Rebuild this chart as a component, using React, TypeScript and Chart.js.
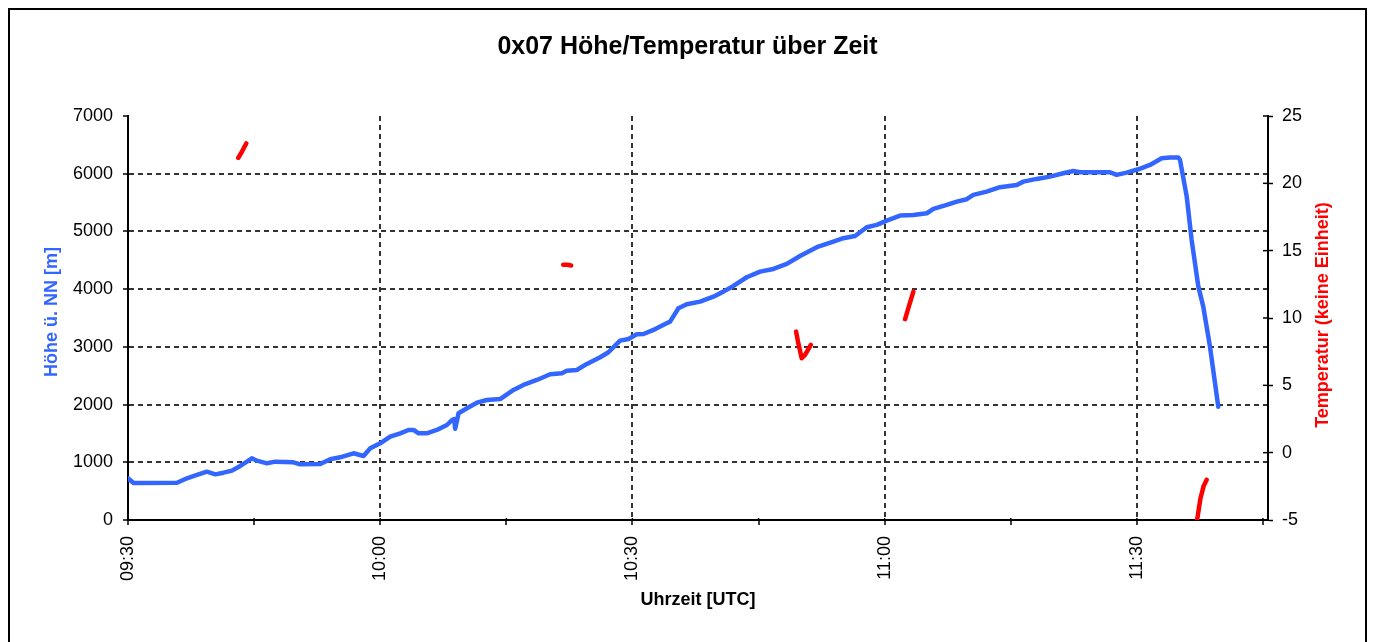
import React, { useEffect, useRef } from "react";
import { Chart, registerables } from "chart.js";

Chart.register(...registerables);

const CHART_TITLE = "0x07 Höhe/Temperatur über Zeit";
const X_TITLE = "Uhrzeit [UTC]";
const LEFT_TITLE = "Höhe ü. NN [m]";
const RIGHT_TITLE = "Temperatur (keine Einheit)";

const xMajorTicks = ["09:30", "10:00", "10:30", "11:00", "11:30"];
const xMinorTicks = ["09:45", "10:15", "10:45", "11:15", "11:45"];
const xRange = ["09:30:00", "11:45:36"];

const altTimes = [
  "09:30:00", "09:30:40", "09:35:50", "09:37:01", "09:38:12", "09:39:23", "09:40:23", "09:41:22", "09:42:22", "09:43:21",
  "09:44:09", "09:44:44", "09:45:20", "09:46:32", "09:47:31", "09:49:41", "09:50:29", "09:52:52", "09:54:03", "09:55:14",
  "09:56:50", "09:58:01", "09:58:49", "10:00:00", "10:01:11", "10:02:23", "10:03:22", "10:03:58", "10:04:34", "10:05:33",
  "10:06:44", "10:07:56", "10:08:32", "10:08:48", "10:08:55", "10:09:06", "10:09:19", "10:10:19", "10:11:30", "10:12:41",
  "10:14:16", "10:15:51", "10:17:02", "10:18:38", "10:20:13", "10:21:37", "10:22:12", "10:23:23", "10:24:35", "10:26:10",
  "10:27:09", "10:28:32", "10:29:32", "10:30:31", "10:31:19", "10:32:30", "10:33:53", "10:34:29", "10:35:28", "10:36:28",
  "10:38:03", "10:39:38", "10:40:49", "10:42:01", "10:43:36", "10:45:11", "10:46:46", "10:48:22", "10:49:56", "10:51:56",
  "10:53:54", "10:55:05", "10:56:29", "10:57:52", "10:59:04", "11:00:15", "11:01:50", "11:03:25", "11:05:01", "11:05:48",
  "11:07:23", "11:08:35", "11:09:46", "11:10:33", "11:12:08", "11:13:43", "11:15:43", "11:16:30", "11:18:05", "11:19:40",
  "11:21:15", "11:22:26", "11:23:14", "11:26:49", "11:27:36", "11:28:47", "11:30:10", "11:31:34", "11:32:57", "11:33:56",
  "11:34:56", "11:35:08", "11:35:56", "11:36:31", "11:37:19", "11:37:54", "11:38:42", "11:39:41",
];

const altValues = [
  723, 640, 646, 723, 780, 837, 791, 820, 855, 936,
  1011, 1069, 1028, 982, 1011, 1000, 965, 970, 1052, 1086,
  1156, 1109, 1242, 1329, 1444, 1502, 1560, 1560, 1502, 1502,
  1560, 1646, 1733, 1750, 1580, 1700, 1849, 1936, 2033, 2080,
  2095, 2253, 2340, 2426, 2525, 2542, 2588, 2600, 2704, 2820,
  2906, 3108, 3137, 3218, 3223, 3293, 3397, 3437, 3669, 3738,
  3784, 3870, 3957, 4055, 4206, 4303, 4350, 4437, 4575, 4726,
  4823, 4882, 4922, 5073, 5113, 5187, 5274, 5286, 5315, 5390,
  5459, 5517, 5558, 5633, 5690, 5766, 5806, 5863, 5910, 5950,
  6008, 6048, 6025, 6025, 5979, 6019, 6077, 6152, 6268, 6279,
  6279, 6239, 5603, 4852, 4043, 3697, 3003, 1964,
];

const tempTimes = [
  "09:43:07", "09:43:28", "09:43:43", "09:44:04", "09:50:00",
  "10:21:46", "10:22:14", "10:22:43", "10:35:00",
  "10:49:28", "10:49:44", "10:50:08", "10:50:32", "10:51:13", "10:57:00",
  "11:02:26", "11:02:54", "11:03:25", "11:20:00",
  "11:37:04", "11:37:34", "11:37:56", "11:38:18",
];
const tempValues = [
  21.9, 22.25, 22.55, 22.96, null,
  13.95, 13.95, 13.9, null,
  8.99, 8.12, 7.01, 7.26, 8.0, null,
  9.91, 10.9, 11.96, null,
  -5.4, -3.4, -2.5, -2.02,
];

const FONT = '"Liberation Sans", Arial, Helvetica, sans-serif';
const BLUE = "#3366FF";
const RED = "#FF0000";
const GRID = "#333333";

function toMin(s: string): number {
  const p = s.split(":").map(Number);
  return p[0] * 60 + p[1] + (p[2] || 0) / 60;
}
function fmt(v: number): string {
  const h = Math.floor(v / 60);
  const m = Math.round(v - h * 60);
  return String(h).padStart(2, "0") + ":" + String(m).padStart(2, "0");
}

const majorVals = xMajorTicks.map(toMin);
const allTickVals = [...xMajorTicks, ...xMinorTicks].map(toMin).sort((a, b) => a - b);

const extrasPlugin = {
  id: "extras",
  afterDraw(chart: any) {
    const { ctx, chartArea, scales } = chart;
    const y1 = scales.y1;
    ctx.save();
    ctx.strokeStyle = "#000";
    ctx.lineWidth = 1.5;
    y1.ticks.forEach((t: any) => {
      const y = y1.getPixelForValue(t.value);
      ctx.beginPath();
      ctx.moveTo(chartArea.right - 5, y);
      ctx.lineTo(chartArea.right, y);
      ctx.stroke();
    });
    const xs = scales.x;
    allTickVals.forEach((v) => {
      const x = xs.getPixelForValue(v);
      ctx.beginPath();
      ctx.moveTo(x, chartArea.bottom - 2);
      ctx.lineTo(x, chartArea.bottom);
      ctx.stroke();
    });
    ctx.font = "bold 18px " + FONT;
    ctx.textAlign = "center";
    ctx.textBaseline = "middle";
    const midY = (chartArea.top + chartArea.bottom) / 2;
    const drawRot = (text: string, x: number, y: number, color: string) => {
      ctx.save();
      ctx.translate(x, y);
      ctx.rotate(-Math.PI / 2);
      ctx.fillStyle = color;
      ctx.fillText(text, 0, 0);
      ctx.restore();
    };
    drawRot(LEFT_TITLE, chartArea.left - 76, midY - 6, BLUE);
    drawRot(RIGHT_TITLE, chartArea.right + 55.5, midY - 3, RED);
    ctx.restore();
  },
};

export default function App() {
  const ref = useRef<HTMLCanvasElement | null>(null);

  useEffect(() => {
    if (!ref.current) return;
    Chart.defaults.font.family = FONT;
    const chart = new Chart(ref.current, {
      type: "line",
      data: {
        datasets: [
          {
            label: "Höhe",
            data: altTimes.map((t, i) => ({ x: toMin(t), y: altValues[i] })),
            borderColor: BLUE,
            backgroundColor: BLUE,
            borderWidth: 4.5,
            pointRadius: 0,
            tension: 0,
            borderJoinStyle: "round",
            borderCapStyle: "round",
            yAxisID: "y",
          },
          {
            label: "Temperatur",
            data: tempTimes.map((t, i) => ({ x: toMin(t), y: tempValues[i] })),
            borderColor: RED,
            backgroundColor: RED,
            borderWidth: 4.5,
            pointRadius: 0,
            tension: 0,
            spanGaps: false,
            borderJoinStyle: "round",
            borderCapStyle: "round",
            clip: 0,
            yAxisID: "y1",
          },
        ],
      },
      options: {
        animation: false,
        responsive: true,
        maintainAspectRatio: false,
        layout: { padding: 0 },
        plugins: {
          legend: { display: false },
          tooltip: { enabled: false },
          title: {
            display: true,
            text: CHART_TITLE,
            color: "#000",
            font: { size: 25, weight: "bold", family: FONT },
            padding: { top: 22, bottom: 54 },
          },
        },
        scales: {
          x: {
            type: "linear",
            min: toMin(xRange[0]),
            max: toMin(xRange[1]),
            afterBuildTicks: (s: any) => {
              s.ticks = allTickVals.map((v) => ({ value: v }));
            },
            afterFit: (s: any) => {
              s.height = 126;
            },
            ticks: {
              autoSkip: false,
              minRotation: 90,
              maxRotation: 90,
              padding: 11,
              color: "#000",
              font: { size: 18, family: FONT },
              callback: (v: any) => (majorVals.some((m) => Math.abs(m - v) < 1e-6) ? fmt(Number(v)) : ""),
            },
            grid: {
              color: (c: any) =>
                c.tick && majorVals.some((m) => Math.abs(m - c.tick.value) < 1e-6) && Math.abs(c.tick.value - majorVals[0]) > 1e-6
                  ? GRID
                  : "rgba(0,0,0,0)",
              lineWidth: 2,
              tickColor: "#000",
              tickLength: 5,
              tickWidth: 1.5,
            },
            border: { display: true, color: "#000", width: 2, dash: [5, 4] },
            title: {
              display: true,
              text: X_TITLE,
              color: "#000",
              font: { size: 18, weight: "bold", family: FONT },
              padding: { top: 0, bottom: 35 },
            },
          },
          y: {
            position: "left",
            min: 0,
            max: 7000,
            afterFit: (s: any) => {
              s.width = 118;
            },
            ticks: {
              stepSize: 1000,
              padding: 10,
              color: "#000",
              font: { size: 18, family: FONT },
              callback: (v: any) => String(v),
            },
            grid: {
              color: (c: any) => (c.tick && c.tick.value > 0 && c.tick.value < 7000 ? GRID : "rgba(0,0,0,0)"),
              lineWidth: 2,
              tickColor: "#000",
              tickLength: 5,
              tickWidth: 1.5,
            },
            border: { display: true, color: "#000", width: 2, dash: [5, 4] },
          },
          y1: {
            position: "right",
            min: -5,
            max: 25,
            afterFit: (s: any) => {
              s.width = 97;
            },
            ticks: {
              stepSize: 5,
              padding: 9,
              color: "#000",
              font: { size: 18, family: FONT },
              callback: (v: any) => String(v),
            },
            grid: {
              drawOnChartArea: false,
              tickColor: "#000",
              tickLength: 5,
              tickWidth: 1.5,
            },
            border: { display: true, color: "#000", width: 2 },
          },
        },
      },
      plugins: [extrasPlugin],
    } as any);
    return () => chart.destroy();
  }, []);

  return (
    <div
      style={{
        position: "relative",
        width: 1355,
        height: 636,
        border: "2px solid #000",
        background: "#fff",
      }}
    >
      <canvas ref={ref} />
    </div>
  );
}
